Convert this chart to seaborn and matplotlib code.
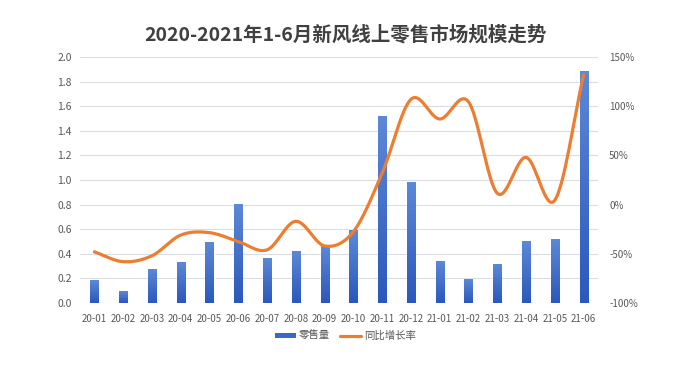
import numpy as np
import pandas as pd
import matplotlib
matplotlib.use("Agg")
import matplotlib.pyplot as plt
import seaborn as sns
from matplotlib.lines import Line2D
from matplotlib.patches import Patch

months = ["20-01", "20-02", "20-03", "20-04", "20-05", "20-06", "20-07", "20-08", "20-09",
          "20-10", "20-11", "20-12", "21-01", "21-02", "21-03", "21-04", "21-05", "21-06"]
sales = [0.18, 0.09, 0.27, 0.33, 0.49, 0.80, 0.36, 0.42, 0.47,
         0.59, 1.52, 0.98, 0.34, 0.195, 0.31, 0.50, 0.52, 1.88]
growth = [-48, -58, -52, -31, -28.5, -37.5, -46, -17, -42,
          -27.5, 32, 107, 87, 104.5, 11.5, 48, 4.5, 132]
left_ticks = [0.0, 0.2, 0.4, 0.6, 0.8, 1.0, 1.2, 1.4, 1.6, 1.8, 2.0]
right_ticks = [-100, -50, 0, 50, 100, 150]
title = "2020-2021年1-6月新风线上零售市场规模走势"

sns.set_theme(style="white")
plt.rcParams['font.family'] = ['Noto Sans CJK SC', 'DejaVu Sans']

df = pd.DataFrame({"month": months, "sales": sales, "growth": growth})

fig = plt.figure(figsize=(6.91, 3.67), dpi=100)
ax = fig.add_axes([80/691, 1-303/367, 518/691, 246/367])

bar_col = "#3A68CA"
sns.barplot(data=df, x="month", y="sales", ax=ax, color=bar_col, width=0.28,
            saturation=1, zorder=2)

# gradient on bars
cmap = matplotlib.colors.LinearSegmentedColormap.from_list("g", ["#2B58BC", "#5C88D8"])
for p in ax.patches:
    x0, y0 = p.get_x(), p.get_y()
    w, h = p.get_width(), p.get_height()
    grad = np.linspace(0, 1, 64).reshape(-1, 1)
    ax.imshow(grad, extent=[x0, x0 + w, y0, y0 + h], origin="lower", aspect="auto",
              cmap=cmap, zorder=3)
ax.set_xlim(-0.5, len(months) - 0.5)
ax.set_ylim(0, 2.0)
ax.set_yticks(left_ticks)
ax.set_yticklabels([f"{t:.1f}" for t in left_ticks])
ax.grid(axis="y", color="#D9DCE3", linewidth=0.8, zorder=0)
ax.set_axisbelow(True)
ax.set_xlabel("")
ax.set_ylabel("")
for s in ["top", "right", "left", "bottom"]:
    ax.spines[s].set_visible(False)
ax.tick_params(axis="both", length=0, labelsize=7.5, colors="#595959", pad=6)
ax.tick_params(axis="x", labelsize=7, pad=8)

ax2 = ax.twinx()
x = np.arange(len(months))
# Catmull-Rom smoothing for drawing the curve through the data points
pts = np.column_stack([x, growth]).astype(float)
P = np.vstack([pts[0] * 2 - pts[1], pts, pts[-1] * 2 - pts[-2]])
curve = []
tt = np.linspace(0, 1, 30)
for i in range(1, len(P) - 2):
    p0, p1, p2, p3 = P[i - 1], P[i], P[i + 1], P[i + 2]
    for t in tt[:-1]:
        t2, t3 = t * t, t * t * t
        c = 0.5 * ((2 * p1) + (-p0 + p2) * t + (2 * p0 - 5 * p1 + 4 * p2 - p3) * t2
                   + (-p0 + 3 * p1 - 3 * p2 + p3) * t3)
        curve.append(c)
curve.append(pts[-1])
curve = np.array(curve)
sns.lineplot(x=curve[:, 0], y=curve[:, 1], ax=ax2, color="#ED7D31", linewidth=2.3,
             sort=False, estimator=None)
ax2.set_ylim(-100, 150)
ax2.set_yticks(right_ticks)
ax2.set_yticklabels([f"{t}%" for t in right_ticks])
for s in ["top", "right", "left", "bottom"]:
    ax2.spines[s].set_visible(False)
ax2.tick_params(axis="y", length=0, labelsize=7, colors="#595959", pad=8)
ax2.grid(False)
ax2.set_xlim(-0.5, len(months) - 0.5)

fig.text(0.5, 1 - 35/367, title, ha="center", va="center", fontsize=14,
         fontweight="bold", color="#404040")

handles = [Patch(facecolor=bar_col, edgecolor="none"),
           Line2D([0], [0], color="#ED7D31", linewidth=2.3)]
fig.legend(handles, ["零售量", "同比增长率"], loc="center", bbox_to_anchor=(0.5, 1 - 336/367),
           ncol=2, frameon=False, fontsize=7.5, handlelength=2.0, handleheight=0.4,
           handletextpad=0.3, columnspacing=1.0, labelcolor="#595959")

fig.savefig("out.png", dpi=100)
